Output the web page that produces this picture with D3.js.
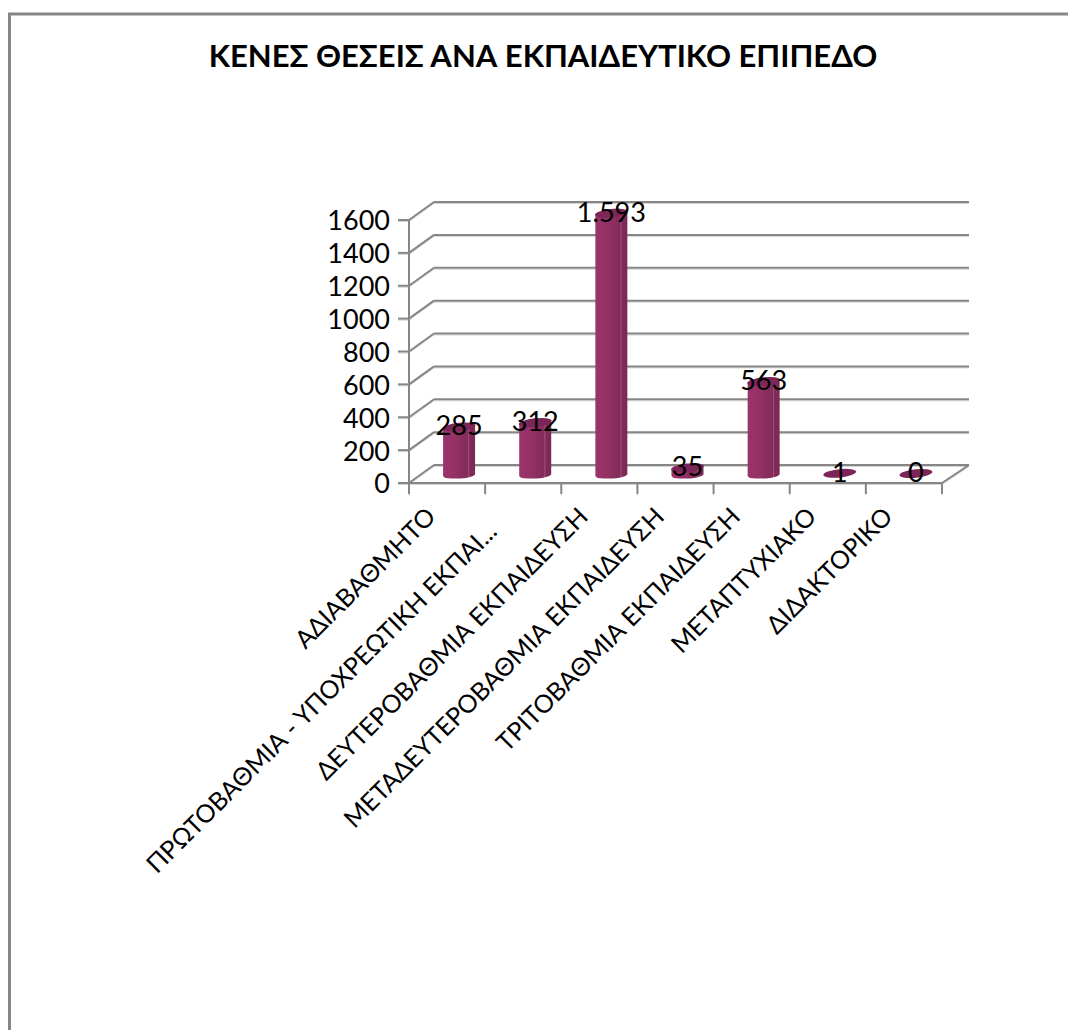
<!DOCTYPE html>
<html><head><meta charset="utf-8">
<script src="https://cdn.jsdelivr.net/npm/d3@7"></script>
<style>html,body{margin:0;padding:0;background:#fff}svg{display:block}text{font-family:Lato,"Open Sans","Noto Sans",sans-serif;fill:#000}</style>
</head><body><svg id="c" width="1068" height="1030"></svg>
<script>
const title = "ΚΕΝΕΣ ΘΕΣΕΙΣ ΑΝΑ ΕΚΠΑΙΔΕΥΤΙΚΟ ΕΠΙΠΕΔΟ";
const categories = ["ΑΔΙΑΒΑΘΜΗΤΟ","ΠΡΩΤΟΒΑΘΜΙΑ - ΥΠΟΧΡΕΩΤΙΚΗ ΕΚΠΑΙ...","ΔΕΥΤΕΡΟΒΑΘΜΙΑ ΕΚΠΑΙΔΕΥΣΗ","ΜΕΤΑΔΕΥΤΕΡΟΒΑΘΜΙΑ ΕΚΠΑΙΔΕΥΣΗ","ΤΡΙΤΟΒΑΘΜΙΑ ΕΚΠΑΙΔΕΥΣΗ","ΜΕΤΑΠΤΥΧΙΑΚΟ","ΔΙΔΑΚΤΟΡΙΚΟ"];
const values = [285,312,1593,35,563,1,0];
const yTicks = [0,200,400,600,800,1000,1200,1400,1600];

const svg = d3.select("#c");
const gray = "#868686", shadow = "#d4d4d4";
const dx = 25, dy = -18;           // depth offset of the back wall
const x = d3.scaleBand().domain(categories).range([409,942]);
const y = d3.scaleLinear().domain([0,1600]).range([483,220]);
const fmt = d3.formatLocale({decimal:",",thousands:".",grouping:[3],currency:["","€"]}).format(",d");

// frame
svg.append("path").attr("d","M9.5,1030V14H1068").attr("fill","none").attr("stroke",gray).attr("stroke-width",3);

// title
svg.append("text").attr("x",543).attr("y",67).attr("text-anchor","middle")
  .attr("font-size",31).attr("font-weight",700).text(title);

function line(x1,y1,x2,y2,w=2){
  svg.append("line").attr("x1",x1).attr("y1",y1+1.5).attr("x2",x2).attr("y2",y2+1.5).attr("stroke",shadow).attr("stroke-width",1);
  svg.append("line").attr("x1",x1).attr("y1",y1).attr("x2",x2).attr("y2",y2).attr("stroke",gray).attr("stroke-width",w);
}

// back wall gridlines + side wall diagonals + value axis
yTicks.forEach(t=>{
  const yy = y(t);
  line(409,yy,409+dx,yy+dy);
  line(409+dx,yy+dy,942+dx+2,yy+dy);
  line(398,yy,409,yy);
  svg.append("text").attr("x",390).attr("y",yy+1).attr("dy","0.35em").attr("text-anchor","end").attr("font-size",27).text(t);
});
line(409,y(1600),409,494);
// floor edges
line(409,483,942,483);
line(942,483,942+dx+2,483+dy);
// category ticks
const edges = categories.map(c=>x(c)).concat([942]);
edges.forEach(e=>line(e,483,e,494));

// bars
const defs = svg.append("defs");
const grad = defs.append("linearGradient").attr("id","body");
[[0,"#9a3468"],[0.12,"#98336a"],[0.45,"#923163"],[0.5,"#8c2f60"],[0.78,"#832c5b"],[0.8,"#a85a84"],[0.83,"#802b58"],[1,"#7c2956"]]
  .forEach(([o,c])=>grad.append("stop").attr("offset",o).attr("stop-color",c));

const barW = 32, baseY = 473.5, hScale = d3.scaleLinear().domain([0,1600]).range([0,261.5]);
const g = svg.selectAll("g.bar").data(categories.map((c,i)=>({c,v:values[i]}))).join("g").attr("class","bar");
g.each(function(d){
  const s = d3.select(this), cx = x(d.c)+x.bandwidth()/2+12, top = baseY-hScale(d.v);
  const l = cx-barW/2, r = cx+barW/2;
  if(hScale(d.v)>=1){
    s.append("path").attr("fill","url(#body)")
     .attr("d",`M${l},${top+2}L${l},${baseY+2.5}Q${l+1},${baseY+5} ${l+8},${baseY+5}L${cx+2},${baseY+5}Q${r-3},${baseY+4} ${r},${baseY+1}L${r},${top-2}Z`);
  }
  s.append("ellipse").attr("cx",cx).attr("cy",top).attr("rx",barW/2+0.5).attr("ry",4.2)
   .attr("fill","#7c2558").attr("transform",`rotate(-6 ${cx} ${top})`);
  s.append("text").attr("x",cx).attr("y",top-1).attr("dy","0.35em").attr("text-anchor","middle").attr("font-size",27).text(fmt(d.v));
});

// category labels (a truncated label sits further down its slope, as in the reference)
categories.forEach(c=>{
  const shift = c.endsWith("...") ? 17 : 2;
  const px = x(c)+x.bandwidth()/2-14-shift, py = 510+shift;
  svg.append("text").attr("transform",`translate(${px},${py}) rotate(-45)`).attr("text-anchor","end")
    .attr("dy","0.35em").attr("font-size",25).text(c);
});
</script></body></html>
